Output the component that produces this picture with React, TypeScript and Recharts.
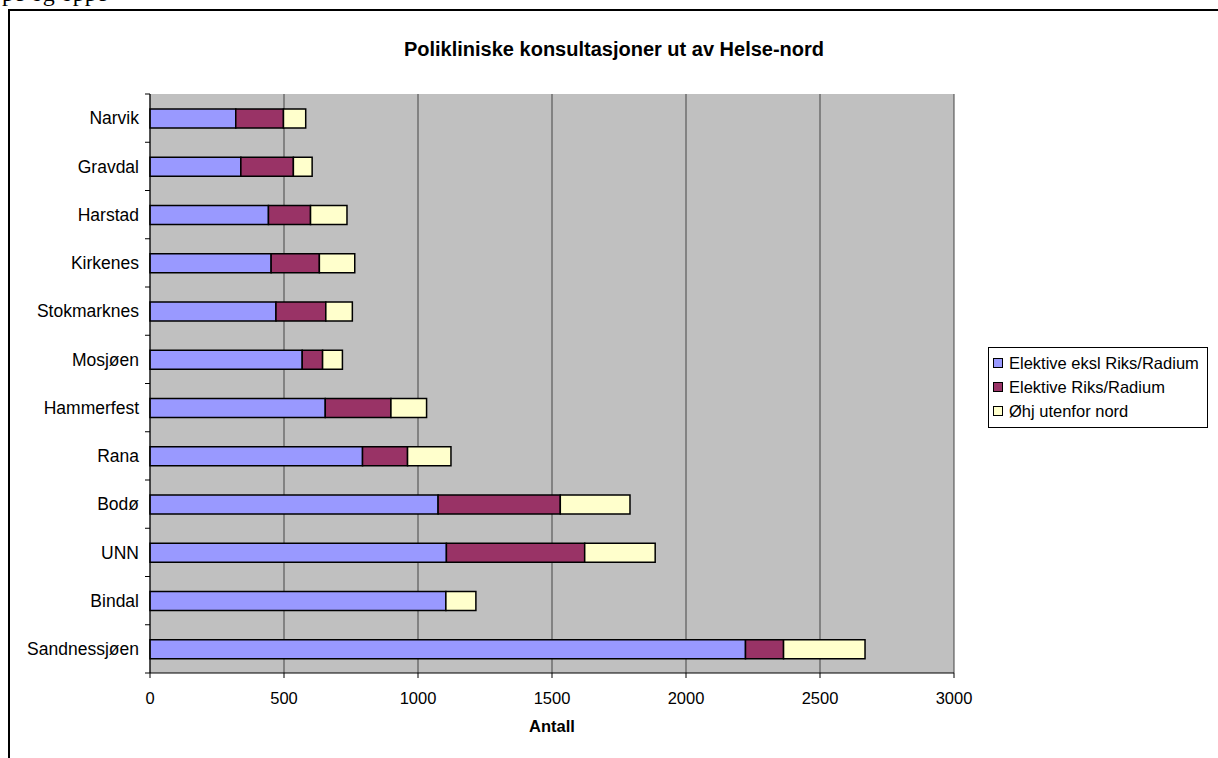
import React from "react";
import { BarChart, Bar, XAxis, YAxis, CartesianGrid, Legend } from "recharts";

const steder = ["Narvik", "Gravdal", "Harstad", "Kirkenes", "Stokmarknes", "Mosjøen", "Hammerfest", "Rana", "Bodø", "UNN", "Bindal", "Sandnessjøen"];
const elektiveEksl = [320, 339, 442, 452, 470, 568, 654, 793, 1075, 1106, 1104, 2222];
const elektiveRiks = [178, 196, 157, 180, 186, 76, 245, 168, 456, 516, 0, 142];
const ohjUtenfor = [83, 70, 136, 132, 99, 74, 133, 162, 260, 263, 112, 304];
const xTicks = [0, 500, 1000, 1500, 2000, 2500, 3000];

const serier = [
  { key: "eksl", navn: "Elektive eksl Riks/Radium", farge: "#9999FF" },
  { key: "riks", navn: "Elektive Riks/Radium", farge: "#993366" },
  { key: "ohj", navn: "Øhj utenfor nord", farge: "#FFFFCC" },
];

const data = steder.map((s, i) => ({
  sted: s,
  eksl: elektiveEksl[i],
  riks: elektiveRiks[i],
  ohj: ohjUtenfor[i],
}));

const FONT = "'Liberation Sans', Arial, sans-serif";

// kategori-etikett + tick-strek mellom kategoriene (som i Excel)
const StedTick = (props: any) => {
  const { x, y, payload, index, visibleTicksCount } = props;
  const half = payload.offset || 0;
  const ax = x + 6;
  return (
    <g>
      <text x={x} y={y} dy="0.35em" textAnchor="end" fontSize={17.5} fontFamily={FONT} fill="#000">
        {payload.value}
      </text>
      <line x1={ax} x2={ax + 5} y1={y - half} y2={y - half} stroke="#000" />
      {index === visibleTicksCount - 1 && (
        <line x1={ax} x2={ax + 5} y1={y + half} y2={y + half} stroke="#000" />
      )}
    </g>
  );
};

const LegendBox = () => (
  <div style={{ border: "1px solid #000", background: "#fff", padding: "3px 4px 4px 4px", fontFamily: FONT, fontSize: 16.5, color: "#000" }}>
    {serier.map((s) => (
      <div key={s.key} style={{ display: "flex", alignItems: "center", height: 24 }}>
        <span style={{ display: "inline-block", width: 8, height: 8, border: "1.5px solid #000", background: s.farge, marginRight: 6 }} />
        <span>{s.navn}</span>
      </div>
    ))}
  </div>
);

export default function App() {
  return (
    <div style={{ position: "absolute", left: 0, top: 0, width: 1218, height: 758, overflow: "hidden", background: "#fff" }}>
      <div style={{ position: "absolute", left: 2, top: -19, fontFamily: "'Liberation Serif', serif", fontSize: 24, lineHeight: "24px", whiteSpace: "nowrap" }}>
        pe og oppe
      </div>
      <div style={{ position: "absolute", left: 8, top: 9, width: 1220, height: 760, borderLeft: "2px solid #000", borderTop: "2px solid #000" }} />
      <div style={{ position: "absolute", left: 8, width: 1212, top: 38, textAlign: "center", fontFamily: FONT, fontWeight: "bold", fontSize: 20 }}>
        Polikliniske konsultasjoner ut av Helse-nord
      </div>
      <div style={{ position: "absolute", left: 0, top: 0 }}>
        <BarChart
          width={1218}
          height={758}
          data={data}
          layout="vertical"
          barSize={19}
          margin={{ top: 94, right: 264, bottom: 45, left: 10 }}
        >
          <CartesianGrid horizontal={false} stroke="#444" fill="#C0C0C0" />
          <XAxis
            type="number"
            domain={[0, 3000]}
            ticks={xTicks}
            tickSize={5}
            tickMargin={14}
            height={40}
            stroke="#000"
            tick={{ fill: "#000", fontSize: 16.5, fontFamily: FONT }}
            label={{ value: "Antall", position: "bottom", offset: 7, fill: "#000", fontSize: 16.5, fontWeight: "bold", fontFamily: FONT }}
          />
          <YAxis
            type="category"
            dataKey="sted"
            width={140}
            tickSize={5}
            tickMargin={6}
            tickLine={false}
            stroke="#000"
            interval={0}
            tick={<StedTick />}
          />
          <Legend
            layout="horizontal"
            align="center"
            verticalAlign="middle"
            content={<LegendBox />}
            wrapperStyle={{ left: 988, top: 347, width: 220, right: "auto", bottom: "auto" }}
          />
          {serier.map((s) => (
            <Bar
              key={s.key}
              dataKey={s.key}
              name={s.navn}
              stackId="a"
              fill={s.farge}
              stroke="#000"
              strokeWidth={1.5}
              isAnimationActive={false}
            />
          ))}
        </BarChart>
      </div>
    </div>
  );
}
